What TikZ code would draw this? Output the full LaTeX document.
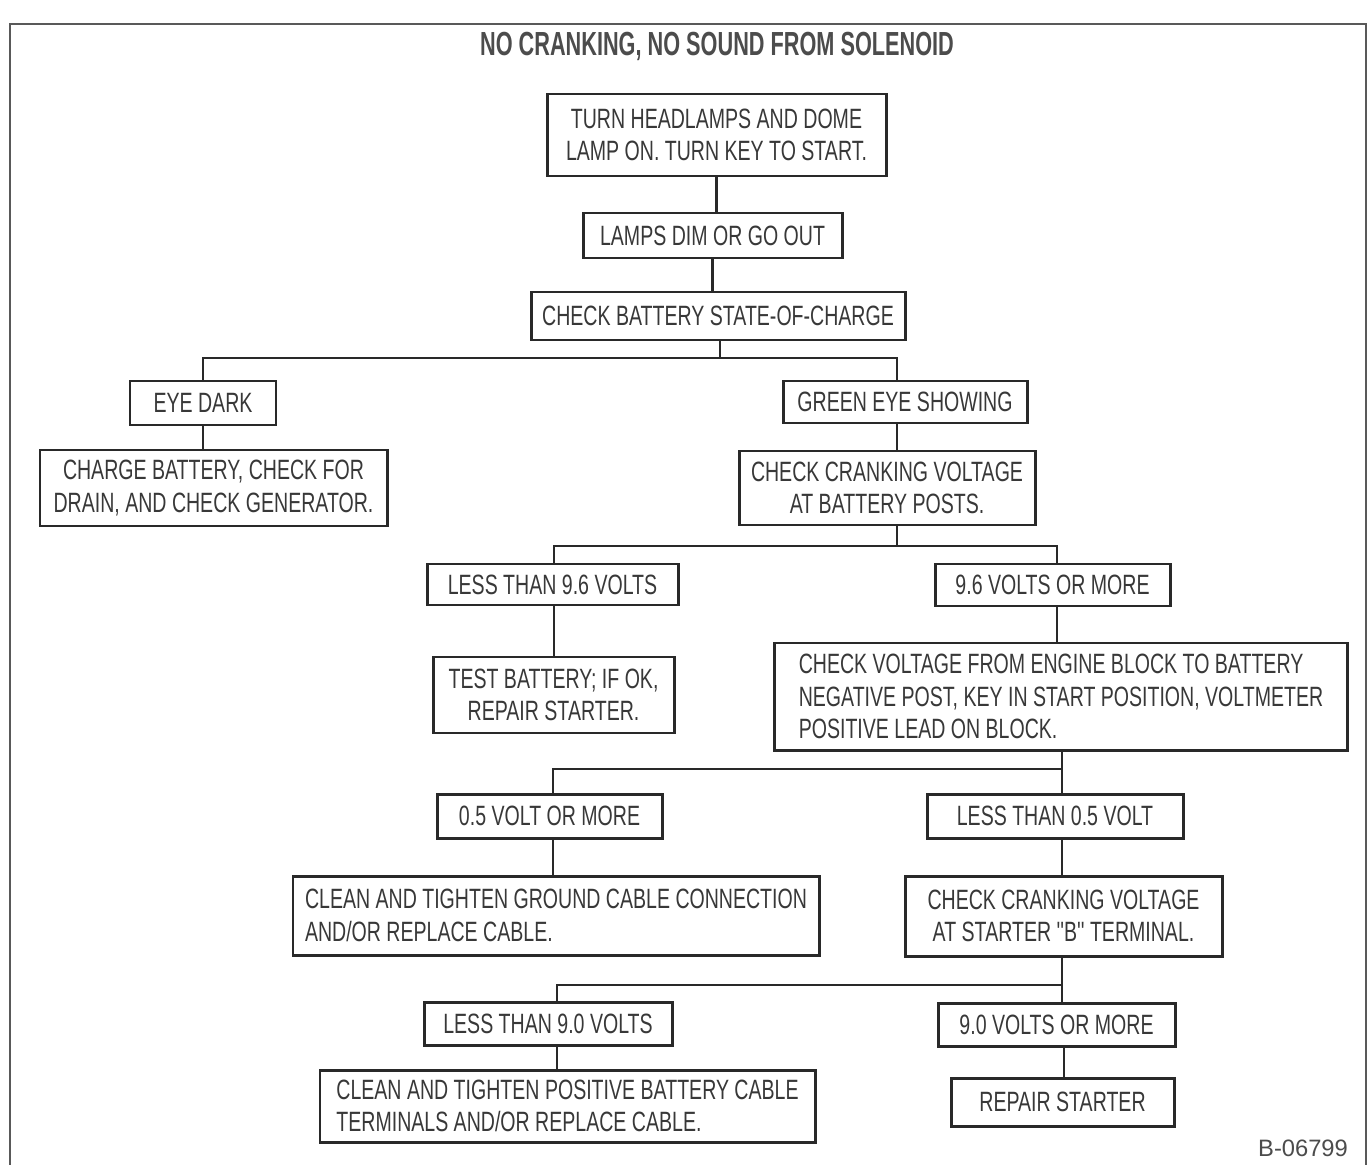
\documentclass[tikz,border=0pt]{standalone}
\usepackage{fontspec}
\setmainfont{Liberation Sans}
\newfontfamily\chartfont[FakeStretch=0.70]{Liberation Sans}
\newfontfamily\headfont[FakeStretch=0.65]{Liberation Sans}
\usetikzlibrary{positioning}
\definecolor{ink}{rgb}{0.16,0.16,0.16}
\definecolor{textink}{rgb}{0.22,0.22,0.22}
\definecolor{headink}{rgb}{0.30,0.30,0.30}
\definecolor{framegray}{rgb}{0.35,0.35,0.35}

\tikzset{
  chkbox/.style={draw=ink, line width=1.7pt, text=textink, inner sep=0pt, align=center,
    font=\chartfont\fontsize{15.9}{18.5}\selectfont},
  boxdim/.style 2 args={minimum width=#1*0.02cm, minimum height=#2*0.02cm},
  leftbox/.style={align=left, inner xsep=#1*0.02cm},
  wire/.style={draw=ink, line width=1.5pt},
}

\begin{document}
\begin{tikzpicture}[x=0.02cm,y=-0.02cm]
  \useasboundingbox (0,0) rectangle (1371,1165);
  \fill[white] (0,0) rectangle (1371,1165);
  % outer frame
  \draw[framegray, line width=1.1pt] (10,1165) -- (10,24) -- (1366,24) -- (1366,1165);

  \node[text=headink, font=\headfont\bfseries\fontsize{19}{21}\selectfont] (title) at (717,46) {NO CRANKING, NO SOUND FROM SOLENOID};

  % boxes
  \node[chkbox, boxdim={339}{82}] (turnkey) at (716.5,135) {TURN HEADLAMPS AND DOME\\LAMP ON. TURN KEY TO START.};
  \node[chkbox, boxdim={259}{45}] (lampsdim) at (712.5,235.5) {LAMPS DIM OR GO OUT};
  \node[chkbox, boxdim={374}{48}] (stateofcharge) at (718,316) {CHECK BATTERY STATE-OF-CHARGE};
  \node[chkbox, boxdim={146}{44}] (eyedark) at (203,403) {EYE DARK};
  \node[chkbox, boxdim={244}{42}] (greeneye) at (905,402) {GREEN EYE SHOWING};
  \node[chkbox, boxdim={347}{76}] (chargebat) at (213.5,488) {CHARGE BATTERY, CHECK FOR\\DRAIN, AND CHECK GENERATOR.};
  \node[chkbox, boxdim={296}{74}] (postsvolt) at (887,488) {CHECK CRANKING VOLTAGE\\AT BATTERY POSTS.};
  \node[chkbox, boxdim={251}{41}] (under96) at (552.5,584.5) {LESS THAN 9.6 VOLTS};
  \node[chkbox, boxdim={235}{42}] (over96) at (1052.5,585) {9.6 VOLTS OR MORE};
  \node[chkbox, boxdim={241}{76}] (testbat) at (553.5,695) {TEST BATTERY; IF OK,\\REPAIR STARTER.};
  \node[chkbox, boxdim={572}{107}, leftbox=24] (blockvolt) at (1061,696.5)
    {CHECK VOLTAGE FROM ENGINE BLOCK TO BATTERY\\NEGATIVE POST, KEY IN START POSITION, VOLTMETER\\POSITIVE LEAD ON BLOCK.};
  \node[chkbox, boxdim={225}{44}] (over05) at (549.5,816) {0.5 VOLT OR MORE};
  \node[chkbox, boxdim={256}{44}] (under05) at (1055,816) {LESS THAN 0.5 VOLT};
  \node[chkbox, boxdim={526}{79}, leftbox=12] (groundcable) at (556,915.5)
    {CLEAN AND TIGHTEN GROUND CABLE CONNECTION\\AND/OR REPLACE CABLE.};
  \node[chkbox, boxdim={317}{80}] (bterminal) at (1063.5,916) {CHECK CRANKING VOLTAGE\\AT STARTER ''B'' TERMINAL.};
  \node[chkbox, boxdim={248}{43}] (under90) at (548,1023.5) {LESS THAN 9.0 VOLTS};
  \node[chkbox, boxdim={237}{43}] (over90) at (1056.5,1024.5) {9.0 VOLTS OR MORE};
  \node[chkbox, boxdim={495}{72}, leftbox=16] (poscable) at (567.5,1106)
    {CLEAN AND TIGHTEN POSITIVE BATTERY CABLE\\TERMINALS AND/OR REPLACE CABLE.};
  \node[chkbox, boxdim={223}{48}] (repair) at (1062.5,1102) {REPAIR STARTER};

  \node[text=headink, font=\fontsize{13.5}{15}\selectfont] (figno) at (1303,1148) {B-06799};

  % junctions
  \coordinate (bus1) at (720,358);
  \coordinate (bus2) at (897,546);
  \coordinate (bus3) at (1062,769);
  \coordinate (bus4) at (1062,985);
  \coordinate (greenx) at (897,0);
  \coordinate (overx) at (1057,0);
  \coordinate (leftx) at (554,0);
  \coordinate (groundx) at (553,0);
  \coordinate (lowx) at (557,0);
  \coordinate (repairx) at (1064,0);

  % connectors
  \draw[wire] (turnkey.south) -- (turnkey.south |- lampsdim.north);
  \draw[wire] (lampsdim.south) -- (lampsdim.south |- stateofcharge.north);
  \draw[wire] (stateofcharge.south -| bus1) -- (bus1);
  \draw[wire] (eyedark.north) |- (bus1) -| (greenx |- greeneye.north);
  \draw[wire] (eyedark.south) -- (eyedark.south |- chargebat.north);
  \draw[wire] (greenx |- greeneye.south) -- (greenx |- postsvolt.north);
  \draw[wire] (greenx |- postsvolt.south) -- (bus2);
  \draw[wire] (leftx |- under96.north) |- (bus2) -| (overx |- over96.north);
  \draw[wire] (leftx |- under96.south) -- (leftx |- testbat.north);
  \draw[wire] (overx |- over96.south) -- (overx |- blockvolt.north);
  \draw[wire] (bus3 |- blockvolt.south) -- (bus3);
  \draw[wire] (groundx |- over05.north) |- (bus3) -- (bus3 |- under05.north);
  \draw[wire] (groundx |- over05.south) -- (groundx |- groundcable.north);
  \draw[wire] (bus3 |- under05.south) -- (bus3 |- bterminal.north);
  \draw[wire] (bus4 |- bterminal.south) -- (bus4 |- over90.north);
  \draw[wire] (lowx |- under90.north) |- (bus4);
  \draw[wire] (lowx |- under90.south) -- (lowx |- poscable.north);
  \draw[wire] (repairx |- over90.south) -- (repairx |- repair.north);
\end{tikzpicture}
\end{document}
